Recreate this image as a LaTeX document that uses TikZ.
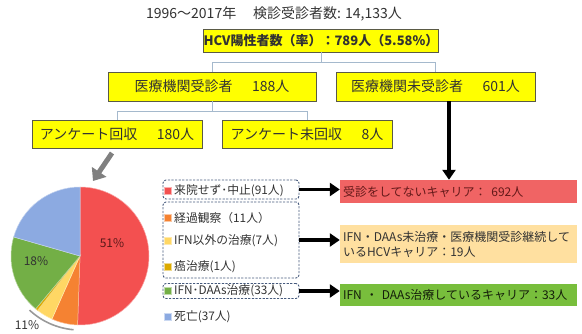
\documentclass[tikz,border=0pt]{standalone}
\usepackage{fontspec}
\setmainfont{Noto Sans CJK JP}
\usetikzlibrary{arrows.meta}
\definecolor{ybox}{RGB}{255,255,0}
\definecolor{yborder}{RGB}{90,90,70}
\definecolor{treeline}{RGB}{165,185,205}
\definecolor{txt}{RGB}{50,50,50}
\definecolor{pred}{RGB}{243,80,80}
\definecolor{porange}{RGB}{245,130,50}
\definecolor{pyellow}{RGB}{255,215,100}
\definecolor{pdark}{RGB}{220,170,0}
\definecolor{pgreen}{RGB}{115,175,70}
\definecolor{pblue}{RGB}{140,170,225}
\definecolor{rred}{RGB}{240,100,100}
\definecolor{rpeach}{RGB}{255,224,160}
\definecolor{rgreen}{RGB}{120,190,60}
\definecolor{dashc}{RGB}{70,90,125}
\definecolor{arrgray}{RGB}{128,128,128}
\tikzset{
  tbox/.style={draw=yborder, line width=0.8pt, fill=ybox, inner sep=0pt, text=txt, font=\fontsize{14}{16}\selectfont},
  conn/.style={draw=treeline, line width=1pt},
  bigarrow/.style={draw=black, line width=3.2pt, -{Triangle[length=10pt,width=13pt]}},
  lbox/.style={draw=dashc, dash pattern=on 2.2pt off 1.4pt, line width=0.9pt, rounded corners=3pt, inner sep=0pt},
  lmark/.style={minimum size=6.5pt, inner sep=0pt, line width=0.6pt},
  litem/.style={anchor=west, inner sep=0pt, text=txt, font=\fontsize{11.8}{14}\selectfont},
  rbox/.style={inner sep=3pt, text width=231pt, align=left, font=\fontsize{12}{15}\selectfont},
  pct/.style={text=txt, font=\fontsize{12}{14}\selectfont, inner sep=0pt}
}
\begin{document}
\begin{tikzpicture}[x=1pt,y=-1pt]
\useasboundingbox (0,0) rectangle (582,333);
% title
\node[text=txt, font=\fontsize{14}{16}\selectfont, inner sep=0pt] (title) at (274,14) {1996～2017年\hspace{1.2em}検診受診者数: 14,133人};
% tree boxes
\node[tbox, minimum width=228pt, minimum height=23pt, font=\fontsize{13}{15}\selectfont\bfseries] (hcv) at (321,40.5) {HCV陽性者数（率）：789人（5.58\%）};
\node[tbox, minimum width=208pt, minimum height=29pt] (b188) at (212,86.5) {医療機関受診者\hspace{1.4em}188人};
\node[tbox, minimum width=199pt, minimum height=29pt] (b601) at (435.5,86.5) {医療機関未受診者\hspace{1.4em}601人};
\node[tbox, minimum width=170pt, minimum height=28pt] (b180) at (117,134) {アンケート回収\hspace{1.4em}180人};
\node[tbox, minimum width=170pt, minimum height=28pt] (b8) at (307,134) {アンケート未回収\hspace{1.4em}8人};
% tree connectors
\coordinate (j1) at (321,62);
\coordinate (j2) at (212,111);
\draw[conn] (hcv.south) -- (j1);
\draw[conn] (j1) -| (b188.north);
\draw[conn] (j1) -| (b601.north);
\draw[conn] (b188.south) -- (j2);
\draw[conn] (j2) -| (b180.north);
\draw[conn] (j2) -| (b8.north);
% right result boxes
\node[rbox, fill=rred, text={rgb,255:red,100;green,25;blue,25}, minimum height=23pt] (rr) at (458.5,191.5) {受診をしてないキャリア：\hspace{0.4em}692人};
\node[rbox, fill=rpeach, text=txt, minimum height=38pt] (rp) at (458.5,244) {IFN・DAAs未治療・医療機関受診継続して\\いるHCVキャリア：19人};
\node[rbox, fill=rgreen, text={rgb,255:red,20;green,30;blue,10}, minimum height=22pt] (rg) at (458.5,295) {IFN ・ DAAs治療しているキャリア：33人};
% arrow from 601
\coordinate (a601) at (449,101);
\draw[bigarrow] (a601) -- (a601 |- rr.north);
% legend dashed boxes
\node[lbox, minimum width=136pt, minimum height=19pt] (l1) at (231,189.5) {};
\node[lbox, minimum width=136pt, minimum height=76pt] (l2) at (231,240) {};
\node[lbox, minimum width=136pt, minimum height=15pt] (l3) at (231,291) {};
% legend items
\node[lmark, fill=pred, draw=white!55!pred] (m1) at (168,191) {};
\node[litem] (t1) at (174,191) {来院せず･中止(91人)};
\node[lmark, fill=porange, draw=white!55!porange] (m2) at (168,218) {};
\node[litem] (t2) at (174,218) {経過観察（11人）};
\node[lmark, fill=pyellow, draw=white!45!pyellow] (m3) at (168,241) {};
\node[litem] (t3) at (174,241) {IFN以外の治療(7人)};
\node[lmark, fill=pdark, draw=white!55!pdark] (m4) at (168,267) {};
\node[litem] (t4) at (174,267) {癌治療(1人)};
\node[lmark, fill=pgreen, draw=white!55!pgreen] (m5) at (168,291) {};
\node[litem] (t5) at (174,291) {IFN･DAAs治療(33人)};
\node[lmark, fill=pblue, draw=white!55!pblue] (m6) at (168,317) {};
\node[litem] (t6) at (174,317) {死亡(37人)};
% black arrows
\draw[bigarrow] (l1.east) -- (l1.east -| rr.west);
\draw[bigarrow] (l2.east) -- (l2.east -| rp.west);
\draw[bigarrow] (l3.east) -- (l3.east -| rg.west);
% gray arrow
\coordinate (g1) at (112,153);
\coordinate (g2) at (93,181);
\draw[draw=arrgray, line width=5pt, -{Triangle[length=11pt,width=17pt]}] (g1) -- (g2);
% pie
\begin{scope}[shift={(80,256)}, yscale=-1]
  \filldraw[fill=pred, draw=white!50!pred, line width=0.5pt] (0,0) -- (90:69) arc[start angle=90, end angle=-92, radius=69] -- cycle;
  \filldraw[fill=porange, draw=white!50!porange, line width=0.5pt] (0,0) -- (-92:69) arc[start angle=-92, end angle=-114, radius=69] -- cycle;
  \filldraw[fill=pyellow, draw=white!50!pyellow, line width=0.5pt] (0,0) -- (-114:69) arc[start angle=-114, end angle=-128, radius=69] -- cycle;
  \filldraw[fill=pdark, draw=white!50!pdark, line width=0.5pt] (0,0) -- (-128:69) arc[start angle=-128, end angle=-130, radius=69] -- cycle;
  \filldraw[fill=pgreen, draw=white!50!pgreen, line width=0.5pt] (0,0) -- (-130:69) arc[start angle=-130, end angle=-196, radius=69] -- cycle;
  \filldraw[fill=pblue, draw=white!50!pblue, line width=0.5pt] (0,0) -- (-196:69) arc[start angle=-196, end angle=-270, radius=69] -- cycle;
  \draw[draw=arrgray!80, line width=1.6pt] (-95:74) arc[start angle=-95, end angle=-133, radius=74];
\end{scope}
\node[pct, text={rgb,255:red,90;green,25;blue,25}] (p51) at (112,243) {51\%};
\node[pct] (p18) at (36,261) {18\%};
\node[pct] (p11) at (27,325) {11\%};
\end{tikzpicture}
\end{document}
